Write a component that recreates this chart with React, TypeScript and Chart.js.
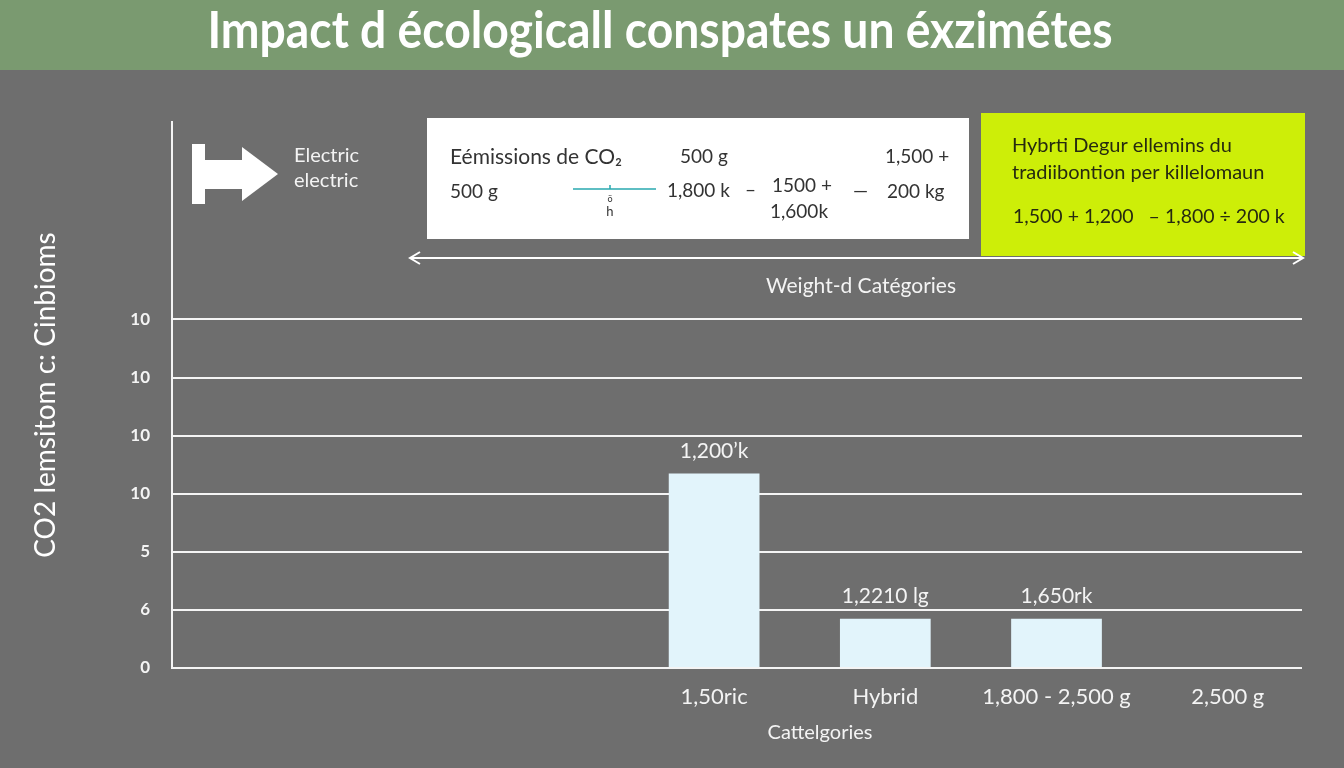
import { useEffect, useRef } from "react";
import { Chart, registerables } from "chart.js";

Chart.register(...registerables);

// ---------- data ----------
const chartTitle = "Impact d écologicall conspates un éxzimétes";
const categories = ["1,50ric", "Hybrid", "1,800 - 2,500 g", "2,500 g"];
const emissions = [3.35, 0.85, 0.85, null];
const barLabels = ["1,200\u2019k", "1,2210 lg", "1,650rk", ""];
const yTickValues = [0, 1, 2, 3, 4, 5, 6];
const yTickLabels = ["0", "6", "5", "10", "10", "10", "10"];
const yAxisTitle = "CO2 lemsitom c: Cinbioms";
const xAxisTitle = "Cattelgories";
const iconLegendLines = ["Electric", "electric"];
const rangeLabel = "Weight-d Catégories";
const greenBoxLines = [
  "Hybrti Degur ellemins du",
  "tradiibontion per killelomaun",
  "1,500 + 1,200   \u2013 1,800 \u00f7 200 k",
];

const FONT = "Lato, 'Open Sans', sans-serif";
const BG = "#6e6e6e";
const BAND = "#7a9a70";
const WHITE = "#f4f4f4";

const decorPlugin = {
  id: "decor",
  beforeDraw(chart: any) {
    const { ctx, width, height } = chart;
    ctx.save();
    ctx.fillStyle = BG;
    ctx.fillRect(0, 0, width, height);
    ctx.fillStyle = BAND;
    ctx.fillRect(0, 0, width, 70);
    // title (condensed)
    ctx.font = `bold 51px ${FONT}`;
    ctx.fillStyle = "#ffffff";
    ctx.textBaseline = "middle";
    ctx.textAlign = "center";
    const w = ctx.measureText(chartTitle).width;
    const target = 905;
    ctx.translate(660, 32);
    ctx.scale(target / w, 1);
    ctx.fillText(chartTitle, 0, 0);
    ctx.restore();
  },
  afterLayout(chart: any) {
    const xs = chart.scales.x;
    const ca = chart.chartArea;
    xs.left = ca.left + ca.width * 0.404;
    xs.right = ca.left + ca.width * 1.01;
    xs.width = xs.right - xs.left;
    xs.configure();
  },
  afterDraw(chart: any) {
    const { ctx } = chart;
    ctx.save();
    ctx.textBaseline = "middle";
    ctx.textAlign = "left";

    // arrow icon
    ctx.fillStyle = "#ffffff";
    ctx.beginPath();
    const pts = [
      [192, 144], [205, 144], [205, 160], [242, 160], [242, 147], [278, 174],
      [242, 201], [242, 189], [205, 189], [205, 204], [192, 204],
    ];
    pts.forEach(([x, y], i) => (i ? ctx.lineTo(x, y) : ctx.moveTo(x, y)));
    ctx.closePath();
    ctx.fill();
    ctx.fillStyle = WHITE;
    ctx.font = `20px ${FONT}`;
    ctx.fillText(iconLegendLines[0], 294, 156);
    ctx.fillText(iconLegendLines[1], 294, 181);

    // white box
    ctx.fillStyle = "#ffffff";
    ctx.fillRect(427, 118, 542, 121);
    ctx.fillStyle = "#333333";
    ctx.font = `21px ${FONT}`;
    ctx.fillText("Eémissions de CO\u2082", 450, 157);
    ctx.font = `19px ${FONT}`;
    ctx.fillText("500 g", 680, 157);
    ctx.fillText("1,500 +", 885, 157);
    ctx.fillText("500 g", 450, 192);
    ctx.fillText("1,800 k", 667, 191);
    ctx.fillText("\u2013", 745, 190);
    ctx.fillText("1500 +", 772, 186);
    ctx.fillText("1,600k", 770, 212);
    ctx.fillText("\u2014", 853, 191);
    ctx.fillText("200 kg", 887, 192);
    ctx.strokeStyle = "#2aa9b0";
    ctx.lineWidth = 1.5;
    ctx.beginPath();
    ctx.moveTo(573, 189);
    ctx.lineTo(656, 189);
    ctx.moveTo(610, 185);
    ctx.lineTo(610, 189);
    ctx.stroke();
    ctx.textAlign = "center";
    ctx.font = `9px ${FONT}`;
    ctx.fillText("\u00f6", 610, 199);
    ctx.font = `13px ${FONT}`;
    ctx.fillText("h", 610, 212);

    // lime box
    ctx.textAlign = "left";
    ctx.fillStyle = "#cdee08";
    ctx.fillRect(981, 113, 324, 143);
    ctx.fillStyle = "#262a10";
    ctx.font = `20px ${FONT}`;
    ctx.fillText(greenBoxLines[0], 1012, 146);
    ctx.fillText(greenBoxLines[1], 1012, 173);
    ctx.font = `19.5px ${FONT}`;
    ctx.fillText(greenBoxLines[2], 1013, 217);

    // double arrow
    ctx.strokeStyle = "#ffffff";
    ctx.lineWidth = 2;
    ctx.beginPath();
    ctx.moveTo(410, 258);
    ctx.lineTo(1303, 258);
    ctx.moveTo(420, 252);
    ctx.lineTo(410, 258);
    ctx.lineTo(420, 264);
    ctx.moveTo(1293, 252);
    ctx.lineTo(1303, 258);
    ctx.lineTo(1293, 264);
    ctx.stroke();
    ctx.fillStyle = WHITE;
    ctx.textAlign = "center";
    ctx.font = `21px ${FONT}`;
    ctx.fillText(rangeLabel, 861, 286);

    // x axis title
    ctx.font = `20px ${FONT}`;
    ctx.fillText(xAxisTitle, 820, 733);

    // bar value labels
    const meta = chart.getDatasetMeta(0);
    ctx.font = `21px ${FONT}`;
    ctx.textBaseline = "bottom";
    meta.data.forEach((el: any, i: number) => {
      if (emissions[i] == null || !barLabels[i]) return;
      ctx.fillText(barLabels[i], el.x, el.y - 12);
    });
    ctx.restore();
  },
};

export default function App() {
  const ref = useRef<HTMLCanvasElement | null>(null);
  useEffect(() => {
    document.body.style.margin = "0";
    const chart = new Chart(ref.current as HTMLCanvasElement, {
      type: "bar",
      data: {
        labels: categories,
        datasets: [
          {
            data: emissions,
            backgroundColor: "#e2f4fb",
            barPercentage: 0.53,
            categoryPercentage: 1,
          },
        ],
      },
      options: {
        responsive: false,
        animation: false,
        devicePixelRatio: 1,
        layout: { padding: { top: 122, right: 42, left: 0, bottom: 0 } },
        plugins: { legend: { display: false }, tooltip: { enabled: false } },
        scales: {
          x: {
            type: "category",
            offset: true,
            grid: { display: false },
            border: { display: false },
            ticks: { color: WHITE, font: { family: FONT, size: 22 }, padding: 8, maxRotation: 0, autoSkip: false },
            afterFit: (s: any) => {
              s.height = 100;
            },
          },
          y: {
            min: 0,
            max: 9.4,
            afterBuildTicks: (s: any) => {
              s.ticks = yTickValues.map((v) => ({ value: v }));
            },
            afterFit: (s: any) => {
              s.width = 172;
            },
            grid: { color: WHITE, lineWidth: 2, drawTicks: false },
            border: { display: true, color: WHITE, width: 2 },
            ticks: {
              color: WHITE,
              font: { family: FONT, size: 17, weight: "bold" },
              padding: 22,
              callback: (_v: any, i: number) => yTickLabels[i],
            },
            title: {
              display: true,
              text: yAxisTitle,
              color: "#ffffff",
              font: { family: FONT, size: 28 },
              padding: { top: 29, bottom: 0 },
            },
          },
        },
      },
      plugins: [decorPlugin],
    });
    return () => chart.destroy();
  }, []);
  return (
    <div style={{ position: "absolute", left: 0, top: 0, width: 1344, height: 768 }}>
      <canvas ref={ref} width={1344} height={768} />
    </div>
  );
}
